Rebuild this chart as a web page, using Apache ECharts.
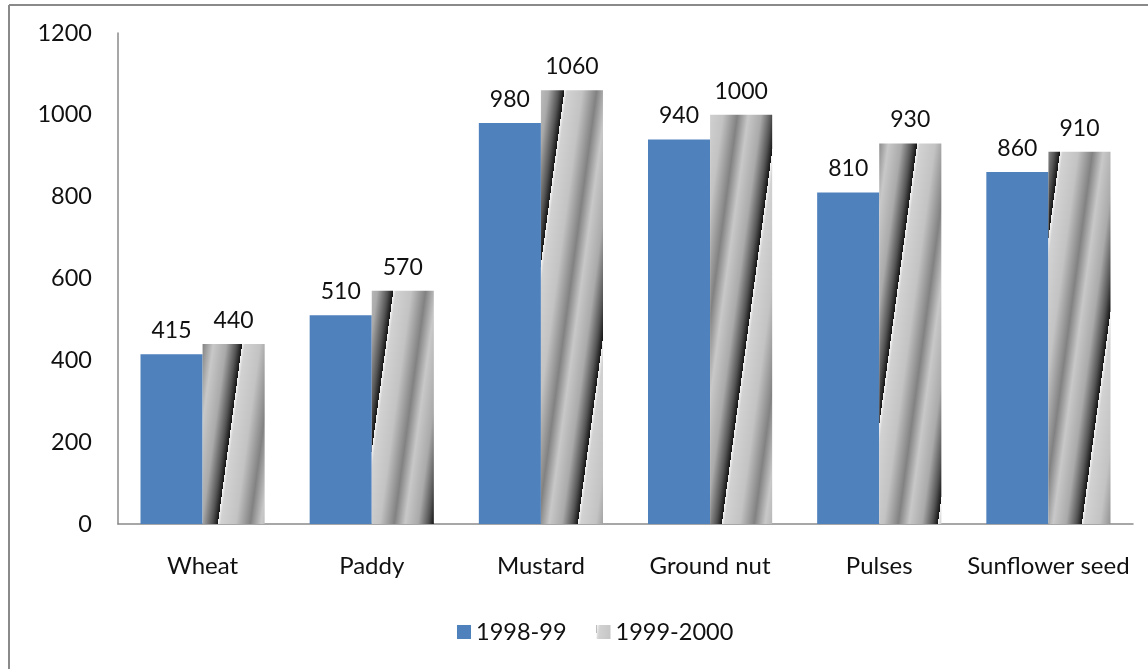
<!DOCTYPE html>
<html>
<head>
<meta charset="utf-8">
<script src="https://cdn.jsdelivr.net/npm/echarts@6/dist/echarts.min.js"></script>
<style>
  html, body {margin: 0; padding: 0; background: #fff;}
  #chart {width: 1148px; height: 669px;}
</style>
</head>
<body>
<div id="chart"></div>
<script>
const categories = ['Wheat', 'Paddy', 'Mustard', 'Ground nut', 'Pulses', 'Sunflower seed'];
const seriesNames = ['1998-99', '1999-2000'];
const values9899 = [415, 510, 980, 940, 810, 860];
const values9900 = [440, 570, 1060, 1000, 930, 910];

// diagonal grey stripe texture for the second series
const makeStripes = () => {
  const period = 72, slope = 0.135;
  const h = Math.round(period / slope);
  const c = document.createElement('canvas');
  c.width = period;
  c.height = h;
  const ctx = c.getContext('2d');
  const img = ctx.createImageData(period, h);
  const stops = [[0, 245], [0.04, 210], [0.25, 195], [0.45, 130], [0.6, 200], [0.78, 170], [0.92, 85], [1, 20]];
  const grey = (t) => {
    for (let i = 1; i < stops.length; i++) {
      if (t <= stops[i][0]) {
        const a = stops[i - 1], b = stops[i];
        return a[1] + (b[1] - a[1]) * (t - a[0]) / (b[0] - a[0]);
      }
    }
    return 20;
  };
  for (let y = 0; y < h; y++) {
    for (let x = 0; x < period; x++) {
      const t = (((x + slope * y) % period) + period) % period / period;
      const g = grey(t);
      const k = (y * period + x) * 4;
      img.data[k] = img.data[k + 1] = img.data[k + 2] = g;
      img.data[k + 3] = 255;
    }
  }
  ctx.putImageData(img, 0, 0);
  return c;
};

const font = 'Lato, "Open Sans", sans-serif';
const myChart = echarts.init(document.getElementById('chart'));
myChart.setOption({
  animation: false,
  textStyle: {fontFamily: font},
  graphic: [
    {type: 'line', shape: {x1: 9, y1: 5, x2: 1148, y2: 5}, style: {stroke: '#8a8a8a', lineWidth: 2}},
    {type: 'line', shape: {x1: 9, y1: 5, x2: 9, y2: 669}, style: {stroke: '#8a8a8a', lineWidth: 2}}
  ],
  grid: {left: 118, right: 15, top: 33, bottom: 145},
  legend: {
    data: seriesNames,
    bottom: 20,
    left: 452,
    itemWidth: 14,
    itemHeight: 14,
    itemGap: 30,
    icon: 'rect',
    textStyle: {color: '#111', fontSize: 23.5, fontFamily: font}
  },
  xAxis: {
    type: 'category',
    data: categories,
    axisLine: {lineStyle: {color: '#8a8a8a', width: 1.5}},
    axisTick: {show: false},
    axisLabel: {color: '#111', fontSize: 24, margin: 30, interval: 0}
  },
  yAxis: {
    type: 'value',
    min: 0,
    max: 1200,
    interval: 200,
    splitLine: {show: false},
    axisLine: {show: true, lineStyle: {color: '#8a8a8a', width: 1.5}},
    axisTick: {show: false},
    axisLabel: {color: '#111', fontSize: 23.5, margin: 26, formatter: (v) => String(v)}
  },
  series: [{
    name: seriesNames[0],
    type: 'bar',
    data: values9899,
    barGap: '0%',
    barCategoryGap: '26.6%',
    itemStyle: {color: '#4f81bd'},
    label: {show: true, position: 'top', distance: 12, color: '#111', fontSize: 23, fontFamily: font}
  }, {
    name: seriesNames[1],
    type: 'bar',
    data: values9900,
    itemStyle: {color: {image: makeStripes(), repeat: 'repeat'}},
    label: {show: true, position: 'top', distance: 12, color: '#111', fontSize: 23, fontFamily: font}
  }]
});
</script>
</body>
</html>
